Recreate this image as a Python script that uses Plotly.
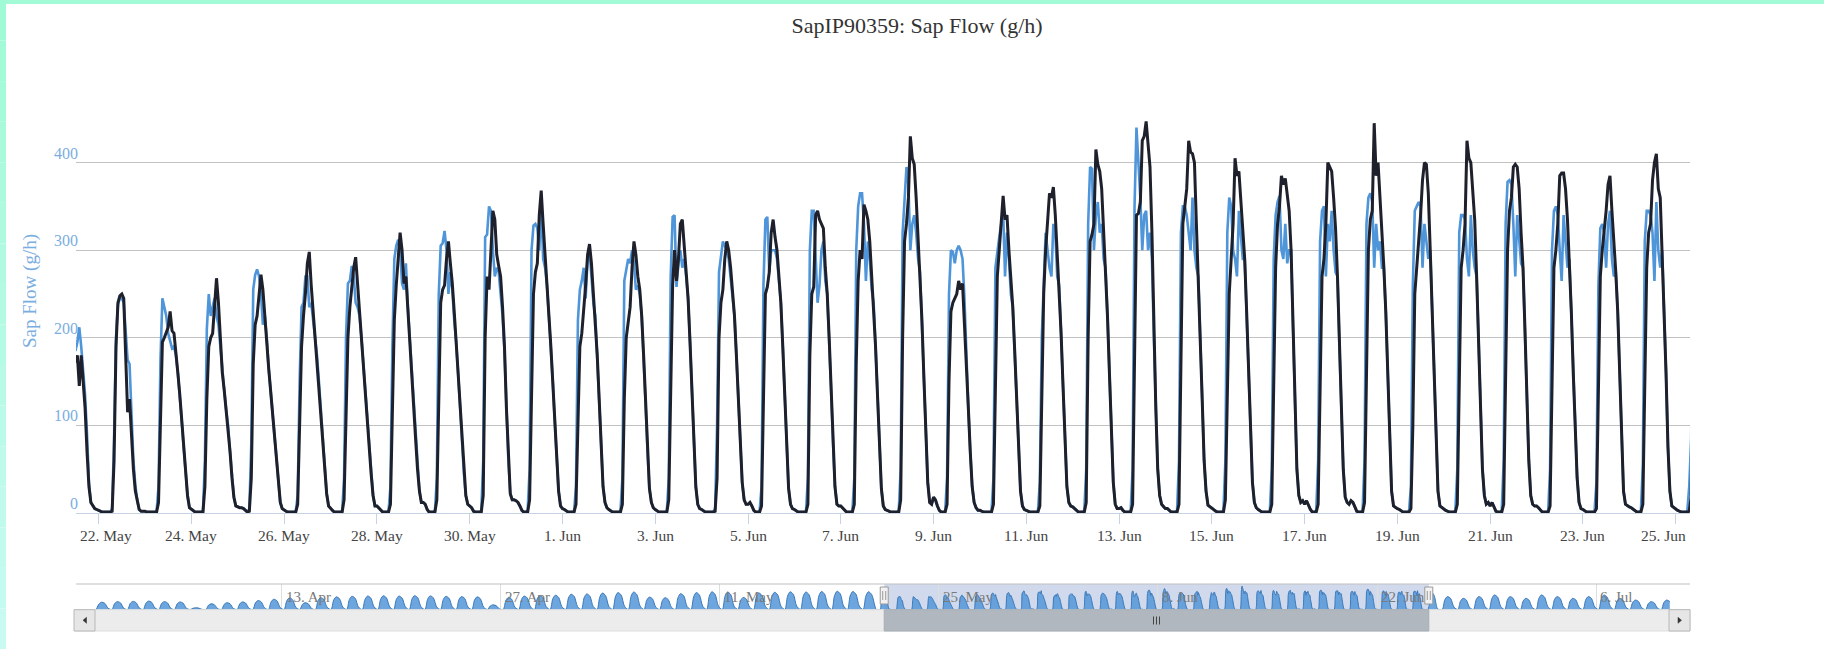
import plotly.graph_objects as go
import pandas as pd

TITLE = "SapIP90359: Sap Flow (g/h)"
Y_TITLE = "Sap Flow (g/h)"

# ---------------- main chart data: hourly values (00h..23h) per day, from 21 May 2015 ----------------
main_start_day = "2015-05-21"
blue_hourly = [
    [2,2,1,1,1,1,3,40,170,190,195,190,185,195,212,190,160,135,90,35,12,8,5,4],        # 21 May
    [3,2,1,1,1,1,1,5,85,200,238,245,245,240,205,175,170,110,60,32,14,4,2,2],          # 22 May
    [2,1,1,1,1,1,2,30,175,245,235,225,205,195,188,190,180,160,135,105,75,45,20,6],    # 23 May
    [4,2,1,1,1,1,3,60,210,250,225,235,245,225,215,190,160,140,118,100,70,40,18,8],    # 24 May
    [7,6,6,5,3,1,5,80,255,272,278,270,250,215,225,200,165,140,110,85,60,35,12,5],     # 25 May
    [3,2,1,1,1,1,2,20,150,235,240,270,270,235,240,220,200,180,150,115,80,50,22,8],    # 26 May
    [5,3,1,1,1,1,2,40,200,262,265,282,270,240,235,225,200,170,140,110,75,45,20,8],    # 27 May
    [8,6,3,1,1,1,2,30,190,290,305,312,300,262,255,285,235,200,165,125,85,50,25,12],   # 28 May
    [12,10,4,1,1,1,2,40,250,305,308,322,300,250,275,255,220,195,160,120,80,45,20,10], # 29 May
    [8,6,2,1,1,1,3,60,315,318,350,345,300,270,280,275,250,225,185,120,60,22,15,15],   # 30 May
    [14,12,8,3,1,1,3,50,300,328,330,325,300,355,290,280,260,225,190,150,105,60,25,8], # 31 May
    [5,4,2,1,1,1,2,30,220,255,265,280,245,290,300,270,240,225,180,130,75,30,12,6],    # 1 Jun
    [4,2,1,1,1,1,2,40,265,280,290,285,300,285,255,260,250,225,180,125,70,28,12,6],    # 2 Jun
    [4,2,1,1,1,1,2,40,270,338,340,258,285,300,280,290,270,245,195,140,80,30,10,5],    # 3 Jun
    [4,2,1,1,1,1,1,5,100,275,290,310,305,300,290,270,245,225,180,130,75,35,15,10],    # 4 Jun
    [10,12,8,3,1,1,2,30,260,335,338,275,300,300,300,290,265,240,190,135,75,28,10,5],  # 5 Jun
    [4,2,1,1,1,1,2,40,300,345,345,290,240,260,300,310,265,250,200,140,80,30,10,8],    # 6 Jun
    [8,6,3,1,1,1,2,40,300,350,365,365,330,265,310,290,255,240,190,135,75,28,8,4],     # 7 Jun
    [3,2,1,1,1,1,3,50,320,360,395,375,300,330,340,320,290,275,220,155,90,35,12,10],   # 8 Jun
    [18,15,8,3,1,1,2,40,250,300,298,285,300,305,300,290,245,175,120,70,30,12,6,3],    # 9 Jun
    [3,2,1,1,1,1,2,40,280,300,315,330,345,270,320,290,250,235,185,130,70,25,8,4],     # 10 Jun
    [3,2,1,1,1,1,2,35,200,260,320,300,280,270,330,320,270,260,205,145,80,30,12,8],    # 11 Jun
    [7,5,2,1,1,1,3,50,330,395,393,300,340,355,320,330,290,280,225,160,90,35,10,5],    # 12 Jun
    [5,6,3,1,1,1,3,50,350,440,400,360,300,340,345,300,320,290,200,120,50,20,10,7],    # 13 Jun
    [5,5,3,1,1,1,3,60,320,350,350,340,320,300,360,300,280,270,200,130,60,25,9,7],     # 14 Jun
    [6,4,2,1,1,1,3,60,320,360,350,300,290,270,345,320,290,290,230,165,90,35,12,6],    # 15 Jun
    [4,2,1,1,1,1,2,50,290,340,355,362,300,290,330,285,300,300,210,120,50,20,12,14],   # 16 Jun
    [10,14,8,4,1,1,3,60,310,345,350,270,330,310,345,300,275,270,190,125,50,18,12,10], # 17 Jun
    [14,12,6,2,1,1,3,60,330,360,365,355,280,330,300,310,280,280,230,160,75,25,8,6],   # 18 Jun
    [5,4,2,1,1,1,2,30,260,345,350,355,350,280,330,310,290,300,230,155,75,25,8,6],     # 19 Jun
    [5,3,2,1,1,1,3,50,320,340,340,335,290,270,340,300,280,270,200,125,50,20,10,12],   # 20 Jun
    [8,12,6,2,1,1,3,60,330,378,380,375,330,270,340,310,285,280,210,130,60,20,10,8],   # 21 Jun
    [8,6,3,1,1,1,2,50,300,345,350,340,300,265,340,310,280,290,230,160,100,40,12,5],   # 22 Jun
    [4,2,1,1,1,1,2,35,260,325,330,320,280,330,345,290,270,275,230,160,75,25,10,8],    # 23 Jun
    [7,6,4,2,1,1,3,55,310,345,345,340,320,265,355,300,280,300,235,160,75,25,8,6],     # 24 Jun
    [5,3,2,1,1,1,2,30,85,300,330,330,320,290,300,280,250,210,140,80,35,15,8,5],       # 25 Jun
]
black_hourly = [
    [2,2,1,1,1,1,2,20,140,170,180,178,172,180,145,180,150,120,70,30,12,8,5,4],        # 21 May
    [3,2,1,1,1,1,1,2,60,190,240,248,250,245,170,115,130,85,50,25,12,4,2,2],           # 22 May
    [2,1,1,1,1,1,1,12,125,195,200,205,212,230,208,205,185,160,135,105,75,45,20,6],    # 23 May
    [4,2,1,1,1,1,1,30,130,190,200,205,240,268,240,200,160,140,118,100,70,40,18,8],    # 24 May
    [7,6,6,5,3,1,2,40,170,215,225,250,272,255,220,195,165,140,110,85,60,35,12,5],     # 25 May
    [3,2,1,1,1,1,1,10,100,190,225,250,285,298,260,230,205,180,150,115,80,50,22,8],    # 26 May
    [5,3,1,1,1,1,1,15,110,200,235,260,280,292,260,230,200,170,140,110,75,45,20,8],    # 27 May
    [8,6,3,1,1,1,1,10,120,220,260,290,320,300,262,270,230,200,165,125,85,50,25,12],   # 28 May
    [12,10,4,1,1,1,1,15,140,240,255,260,290,310,285,262,230,195,160,120,80,45,20,10], # 29 May
    [8,6,2,1,1,1,1,20,200,270,255,300,345,335,295,282,270,235,190,120,60,22,15,15],   # 30 May
    [14,12,8,3,1,1,1,15,160,250,275,285,340,368,330,290,265,225,190,150,105,60,25,8], # 31 May
    [5,4,2,1,1,1,1,10,120,190,205,230,260,295,307,285,250,225,180,130,75,30,12,6],    # 1 Jun
    [4,2,1,1,1,1,1,10,130,200,215,235,280,310,295,270,255,225,180,125,70,28,12,6],    # 2 Jun
    [4,2,1,1,1,1,1,15,150,260,300,265,290,330,335,305,275,245,195,140,80,30,10,5],    # 3 Jun
    [4,2,1,1,1,1,1,2,40,200,240,255,290,310,300,280,250,225,180,130,75,35,15,10],     # 4 Jun
    [10,12,8,3,1,1,1,8,150,250,258,275,320,335,315,300,270,240,190,135,75,28,10,5],   # 5 Jun
    [4,2,1,1,1,1,1,10,180,250,258,340,345,335,330,325,280,250,200,140,80,30,10,8],    # 6 Jun
    [8,6,3,1,1,1,1,10,170,265,300,290,352,345,335,310,270,240,190,135,75,28,8,4],     # 7 Jun
    [3,2,1,1,1,1,1,15,200,310,330,360,430,405,398,360,310,275,220,155,90,35,12,10],   # 8 Jun
    [18,15,8,3,1,1,1,10,150,230,240,245,250,265,255,262,220,175,120,70,30,12,6,3],    # 9 Jun
    [3,2,1,1,1,1,1,10,170,270,300,330,362,335,340,300,270,235,185,130,70,25,8,4],     # 10 Jun
    [3,2,1,1,1,1,1,8,140,250,300,330,365,360,372,340,300,260,205,145,80,30,12,8],     # 11 Jun
    [7,5,2,1,1,1,1,12,200,310,318,330,415,398,390,370,320,280,225,160,90,35,10,5],    # 12 Jun
    [5,6,3,1,1,1,1,10,200,340,342,355,425,430,447,420,395,320,200,120,50,20,10,7],    # 13 Jun
    [5,5,3,1,1,1,1,10,180,330,350,370,425,412,410,400,330,270,200,130,60,25,9,7],     # 14 Jun
    [6,4,2,1,1,1,1,15,150,250,290,330,405,385,390,360,325,290,230,165,90,35,12,6],    # 15 Jun
    [4,2,1,1,1,1,1,10,150,280,330,350,385,375,382,360,345,300,210,120,50,20,12,14],   # 16 Jun
    [10,14,8,4,1,1,1,10,150,270,290,330,400,395,390,360,325,270,190,125,50,18,12,10], # 17 Jun
    [14,12,6,2,1,1,1,12,170,300,335,345,445,385,400,360,335,280,230,160,75,25,8,6],   # 18 Jun
    [5,4,2,1,1,1,1,5,100,250,280,300,340,380,400,398,365,300,230,155,75,25,8,6],      # 19 Jun
    [5,3,2,1,1,1,1,10,160,280,300,330,425,405,400,370,335,270,200,125,50,20,10,12],   # 20 Jun
    [8,12,6,2,1,1,1,10,180,300,345,360,395,398,395,370,320,280,210,130,60,20,10,8],   # 21 Jun
    [8,6,3,1,1,1,1,8,150,280,300,330,385,388,388,370,335,290,230,160,100,40,12,5],    # 22 Jun
    [4,2,1,1,1,1,1,5,120,270,300,320,345,375,385,345,315,275,230,160,75,25,10,8],     # 23 Jun
    [7,6,4,2,1,1,1,10,160,280,320,330,380,400,410,370,360,300,235,160,75,25,8,6],     # 24 Jun
    [5,3,2,1,1,1,1,2,18,220,300,320,340,330,320,300,270,210,140,80,35,15,8,5],        # 25 Jun
]

# ---------------- navigator data outside the main window (values at 04,08,12,17,22 h) ----------------
nav_hours = [4, 8, 12, 17, 22]
nav_pre_start = "2015-04-01"
nav_pre_rows = [
    [3,105,140,119,28],[3,113,150,128,30],[3,116,155,132,31],[3,120,160,136,32],[3,113,150,128,30],
    [3,109,145,123,29],[3,26,35,30,7],[3,83,110,94,22],[3,98,130,111,26],[3,109,145,123,29],
    [3,128,170,145,34],[3,146,195,166,39],[3,165,220,187,44],[3,98,130,111,26],[3,169,225,191,45],
    [3,180,240,204,48],[3,188,250,213,50],[3,191,255,217,51],[3,195,260,221,52],[3,191,255,217,51],
    [3,197,262,223,52],[3,194,258,219,52],[3,188,250,213,50],[3,184,245,208,49],[3,180,240,204,48],
    [3,68,90,77,18],[3,173,230,196,46],[3,191,255,217,51],[3,199,265,225,53],[3,203,270,230,54],
    [3,218,290,247,58],[3,221,295,251,59],[3,233,310,264,62],[3,240,320,272,64],[3,248,330,281,66],
    [3,176,235,200,47],[3,169,225,191,45],[3,225,300,255,60],[3,240,320,272,64],[3,251,335,285,67],
    [3,248,330,281,66],[3,173,230,196,46],[3,233,310,264,62],[3,244,325,276,65],[3,251,335,285,67],
    [3,248,330,281,66],[3,255,340,289,68],[3,259,345,293,69],[3,255,340,289,68],[3,251,335,285,67],
]
nav_post_start = "2015-06-26"
nav_post_rows = [
    [3,184,245,208,49],[3,159,212,180,42],[3,184,245,208,49],[3,206,275,234,55],[3,184,245,208,49],
    [3,159,212,180,42],[3,206,275,234,55],[3,184,245,208,49],[3,159,212,180,42],[3,184,245,208,49],
    [3,206,275,234,55],[3,159,212,180,42],[3,135,180,153,36],[3,113,150,128,30],[3,135,180,153],
]

# ---------------- axes / ticks ----------------
main_tick_dates = ["2015-05-22", "2015-05-24", "2015-05-26", "2015-05-28", "2015-05-30",
                   "2015-06-01", "2015-06-03", "2015-06-05", "2015-06-07", "2015-06-09",
                   "2015-06-11", "2015-06-13", "2015-06-15", "2015-06-17", "2015-06-19",
                   "2015-06-21", "2015-06-23", "2015-06-25"]
main_tick_labels = ["22. May", "24. May", "26. May", "28. May", "30. May",
                    "1. Jun", "3. Jun", "5. Jun", "7. Jun", "9. Jun",
                    "11. Jun", "13. Jun", "15. Jun", "17. Jun", "19. Jun",
                    "21. Jun", "23. Jun", "25. Jun"]
nav_tick_dates = ["2015-04-13", "2015-04-27", "2015-05-11", "2015-05-25",
                  "2015-06-08", "2015-06-22", "2015-07-06"]
nav_tick_labels = ["13. Apr", "27. Apr", "11. May", "25. May", "8. Jun", "22. Jun", "6. Jul"]
y_tick_values = [0, 100, 200, 300, 400]
y_grid_values = [100, 200, 300, 400, 500]

view_start = "2015-05-21 12:18"
view_end = "2015-06-25 07:24"
nav_axis_start = "2015-03-30 20:51"
nav_axis_end = "2015-07-11 23:58"

# ---------------- build series ----------------
def rows_to_series(start, rows, hours=None):
    t0 = pd.Timestamp(start)
    xs, ys = [], []
    for d, row in enumerate(rows):
        for i, v in enumerate(row):
            h = hours[i] if hours is not None else i
            xs.append(t0 + pd.Timedelta(days=d, hours=h))
            ys.append(v)
    return xs, ys

bx, by = rows_to_series(main_start_day, blue_hourly)
kx, ky = rows_to_series(main_start_day, black_hourly)
px_pre, py_pre = rows_to_series(nav_pre_start, nav_pre_rows, nav_hours)
px_post, py_post = rows_to_series(nav_post_start, nav_post_rows, nav_hours)
nx = px_pre + bx + px_post
ny = py_pre + by + py_post

# ---------------- geometry helpers ----------------
W, H = 1824, 649
ML, MR, MT, MB = 76, 134, 75, 18
PW, PH = W - ML - MR, H - MT - MB

def XP(px):
    return (px - ML) / PW

def YP(py):
    return (H - MB - py) / PH

n0, n1 = pd.Timestamp(nav_axis_start), pd.Timestamp(nav_axis_end)
def nav_px(d):
    return ML + (pd.Timestamp(d) - n0) / (n1 - n0) * PW

FONT = "Liberation Serif, Times New Roman, serif"
BLUE = "#4f95d9"
DARK = "#1e202c"
LABEL_BLUE = "#7aaee0"

fig = go.Figure()
fig.add_trace(go.Scatter(x=bx, y=by, mode="lines", name="Sap Flow A",
                         line=dict(color=BLUE, width=2.6), xaxis="x", yaxis="y", hoverinfo="skip"))
fig.add_trace(go.Scatter(x=kx, y=ky, mode="lines", name="Sap Flow B",
                         line=dict(color=DARK, width=3.0), xaxis="x", yaxis="y", hoverinfo="skip"))
fig.add_trace(go.Scatter(x=nx, y=ny, mode="lines", name="navigator", fill="tozeroy",
                         fillcolor="rgba(84,150,216,0.85)",
                         line=dict(color="#3b78b8", width=1, shape="spline", smoothing=0.8),
                         xaxis="x2", yaxis="y2", hoverinfo="skip"))

shapes = []
annotations = []

# navigator top line
shapes.append(dict(type="line", xref="paper", yref="paper", x0=0, x1=1, y0=YP(584), y1=YP(584),
                   line=dict(color="#bfbfbf", width=1)))
# navigator selection mask
shapes.append(dict(type="rect", xref="x2", yref="paper", x0=view_start, x1=view_end,
                   y0=YP(609.7), y1=YP(584), fillcolor="rgba(102,133,194,0.3)",
                   line=dict(width=0), layer="below"))
# scrollbar track
shapes.append(dict(type="rect", xref="paper", yref="paper", x0=XP(76), x1=XP(1690),
                   y0=YP(631), y1=YP(609.7), fillcolor="#ececec", line=dict(color="#dedede", width=1)))
# scrollbar thumb
sx0, sx1 = nav_px(view_start), nav_px(view_end)
shapes.append(dict(type="rect", xref="paper", yref="paper", x0=XP(sx0), x1=XP(sx1),
                   y0=YP(631), y1=YP(609.7), fillcolor="#b0b7bf", line=dict(color="#a6adb5", width=1)))
mid = (sx0 + sx1) / 2
for dx in (-3, 0, 3):
    shapes.append(dict(type="line", xref="paper", yref="paper", x0=XP(mid + dx), x1=XP(mid + dx),
                       y0=YP(616.5), y1=YP(624.5), line=dict(color="#444444", width=1)))
# scrollbar buttons
for bx0, bx1 in ((74, 95), (1669, 1690)):
    shapes.append(dict(type="rect", xref="paper", yref="paper", x0=XP(bx0), x1=XP(bx1),
                       y0=YP(631), y1=YP(609.7), fillcolor="#e6e6e6", line=dict(color="#b8b8b8", width=1)))
def tri(points):
    p = " L ".join(f"{XP(x):.6f},{YP(y):.6f}" for x, y in points)
    return "M " + p + " Z"
shapes.append(dict(type="path", xref="paper", yref="paper",
                   path=tri([(86.5, 617.3), (83, 620.3), (86.5, 623.3)]),
                   fillcolor="#333333", line=dict(color="#333333", width=0.5)))
shapes.append(dict(type="path", xref="paper", yref="paper",
                   path=tri([(1678, 617.3), (1681.5, 620.3), (1678, 623.3)]),
                   fillcolor="#333333", line=dict(color="#333333", width=0.5)))
# navigator handles
for hx in (sx0, sx1):
    shapes.append(dict(type="rect", xref="paper", yref="paper", x0=XP(hx - 4), x1=XP(hx + 4),
                       y0=YP(604), y1=YP(587), fillcolor="#f2f2f2", line=dict(color="#9a9a9a", width=1)))
    for dx in (-1.5, 1.5):
        shapes.append(dict(type="line", xref="paper", yref="paper", x0=XP(hx + dx), x1=XP(hx + dx),
                           y0=YP(600), y1=YP(591), line=dict(color="#9a9a9a", width=1)))

# mint border of the screenshot
shapes.append(dict(type="rect", xref="paper", yref="paper", x0=XP(0), x1=XP(W), y0=YP(4), y1=YP(0),
                   fillcolor="#a2fbd6", line=dict(width=0)))
nseg = 16
c_top, c_bot = (160, 250, 213), (200, 250, 242)
for i in range(nseg):
    f = i / (nseg - 1)
    col = tuple(round(c_top[k] + (c_bot[k] - c_top[k]) * f) for k in range(3))
    y0 = H * i / nseg
    y1 = H * (i + 1) / nseg
    shapes.append(dict(type="rect", xref="paper", yref="paper", x0=XP(0), x1=XP(6),
                       y0=YP(y1), y1=YP(y0), fillcolor=f"rgb{col}", line=dict(width=0)))

# y tick labels
for v in y_tick_values:
    annotations.append(dict(text=str(v), xref="paper", yref="y", x=XP(80), y=v, xanchor="right",
                            yanchor="bottom", yshift=-1, showarrow=False,
                            font=dict(family=FONT, size=16, color=LABEL_BLUE)))
# y title
annotations.append(dict(text=Y_TITLE, xref="paper", yref="paper", x=XP(30), y=YP(291), textangle=-90,
                        xanchor="center", yanchor="middle", showarrow=False,
                        font=dict(family=FONT, size=19, color=LABEL_BLUE)))
# x tick labels
for i, (d, t) in enumerate(zip(main_tick_dates, main_tick_labels)):
    if i == 0:
        a = dict(xref="paper", x=XP(78), xanchor="left")
    elif i == len(main_tick_dates) - 1:
        a = dict(xref="paper", x=XP(1688), xanchor="right")
    else:
        a = dict(xref="x", x=d, xanchor="center")
    a.update(text=t, yref="paper", y=YP(535), yanchor="middle", showarrow=False,
             font=dict(family=FONT, size=15.5, color="#444444"))
    annotations.append(a)
# navigator labels
for d, t in zip(nav_tick_dates, nav_tick_labels):
    annotations.append(dict(text=t, xref="x2", x=d, xanchor="left", xshift=2, yref="paper", y=YP(597),
                            yanchor="middle", showarrow=False,
                            font=dict(family=FONT, size=15, color="#7a7a7a")))

fig.update_layout(
    width=W, height=H,
    margin=dict(l=ML, r=MR, t=MT, b=MB, autoexpand=False),
    paper_bgcolor="white", plot_bgcolor="rgba(0,0,0,0)",
    showlegend=False,
    title=dict(text=TITLE, x=917 / W, xref="container", xanchor="center",
               y=1 - 25.5 / H, yref="container", yanchor="middle",
               font=dict(family=FONT, size=22, color="#333333")),
    xaxis=dict(domain=[0, 1], anchor="y", type="date", range=[view_start, view_end],
               tickvals=main_tick_dates, showticklabels=False, ticks="outside", ticklen=10,
               tickcolor="#c6d3e3", tickwidth=1, showgrid=False, zeroline=False,
               showline=True, linecolor="#c6d3e3", linewidth=1, fixedrange=True),
    yaxis=dict(domain=[YP(513), 1], anchor="x", range=[0, 500], tickvals=y_grid_values,
               showticklabels=False, showgrid=True, gridcolor="#c2c2c2", gridwidth=1.2,
               zeroline=False, showline=False, ticks="", fixedrange=True),
    xaxis2=dict(domain=[0, 1], anchor="y2", type="date", range=[nav_axis_start, nav_axis_end],
                tickvals=nav_tick_dates, showticklabels=False, showgrid=True, gridcolor="#dedede",
                gridwidth=1, ticks="", zeroline=False, showline=False, fixedrange=True),
    yaxis2=dict(domain=[YP(609.7), YP(584)], anchor="x2", range=[0, 480], showgrid=False,
                showticklabels=False, zeroline=False, showline=False, ticks="", fixedrange=True),
    shapes=shapes,
    annotations=annotations,
)

fig.write_html("out.html", config={"displayModeBar": False},
               post_script="document.body.style.margin='0px';document.body.style.overflow='hidden';")
